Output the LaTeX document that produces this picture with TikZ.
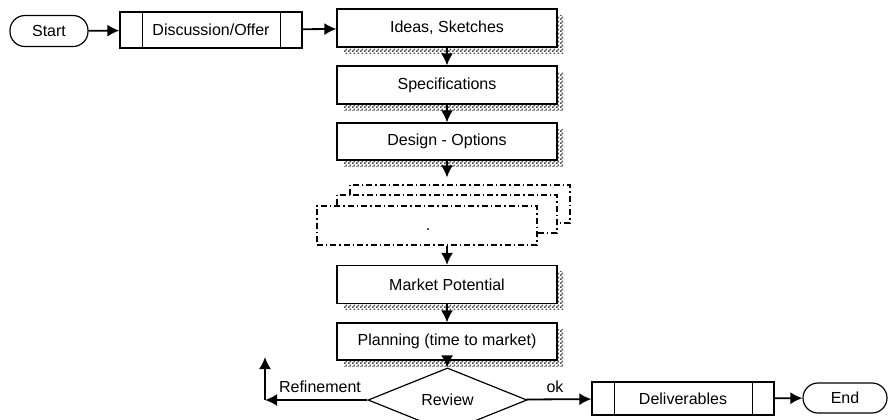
\documentclass[tikz,border=0pt]{standalone}
\usepackage{fontspec}
\setmainfont{Liberation Sans}
\usetikzlibrary{arrows.meta,shapes.geometric,shadows,patterns}

\pgfdeclarepatternformonly{checker}{\pgfpointorigin}{\pgfqpoint{2pt}{2pt}}{\pgfqpoint{2pt}{2pt}}{
  \pgfpathrectangle{\pgfpointorigin}{\pgfqpoint{1pt}{1pt}}
  \pgfpathrectangle{\pgfqpoint{1pt}{1pt}}{\pgfqpoint{1pt}{1pt}}
  \pgfusepath{fill}}

\tikzset{
  every node/.style={font=\fontsize{8}{10}\selectfont, inner sep=0pt},
  proc/.style={draw, line width=0.6pt, fill=white, minimum width=110pt, minimum height=19pt,
    general shadow={shadow xshift=3.5pt, shadow yshift=-3pt, pattern=checker, pattern color=black!70}},
  stackbox/.style={draw, line width=0.6pt, fill=white, minimum width=110pt, minimum height=19pt,
    dash pattern=on 3pt off 1.5pt on 0.7pt off 1.5pt},
  subproc/.style={draw, line width=0.6pt, fill=white, minimum width=91pt},
  term/.style={draw, line width=0.6pt, rounded corners=7.5pt},
  flow/.style={->, line width=0.9pt}
}

\begin{document}
\begin{tikzpicture}[x=0.5pt, y=-0.5pt, >={Latex[length=6pt,width=6pt]}]
\useasboundingbox (0,0) rectangle (893,419);

\node[term, minimum width=39pt, minimum height=15.5pt] (start) at (49,31) {Start};
\node[subproc, minimum height=18pt] (disc) at (211,30) {Discussion/Offer};
\node[proc] (ideas) at (447,28) {Ideas, Sketches};
\node[proc] (spec) at (447,85) {Specifications};
\node[proc, minimum height=18.5pt] (design) at (447,141.5) {Design - Options};

\node[stackbox] (back) at (460,204) {};
\node[stackbox] (mid) at (447,214) {};
\node[stackbox, minimum height=19.5pt] (front) at (427,225.5) {};
\node (dot) at (428,229.5) {.};

\node[proc] (market) at (447,284.5) {Market Potential};
\node[proc, minimum height=18.5pt] (plan) at (447,341.5) {Planning (time to market)};
\node[diamond, draw, line width=0.6pt, minimum width=79.5pt, minimum height=21pt] (review) at (447.5,400) {Review};
\node[subproc, minimum height=16.5pt] (deliv) at (683,398.5) {Deliverables};
\node[term, minimum width=42pt, minimum height=15pt] (end) at (845,398) {End};

\foreach \n in {disc,deliv}
{
  \draw[line width=0.6pt] ([xshift=11.5pt]\n.north west)--([xshift=11.5pt]\n.south west);
  \draw[line width=0.6pt] ([xshift=-11pt]\n.north east)--([xshift=-11pt]\n.south east);
}

\coordinate (refine) at (265,400);
\coordinate (refineup) at (265,357);

\draw[flow] (start)--(disc);
\draw[flow] (disc)--(ideas);
\draw[flow] (ideas)--(spec);
\draw[flow] (spec)--(design);
\draw[flow, shorten >=3.5pt] (design)--(design|-back.north);
\draw[flow] (market|-front.south)--(market);
\draw[flow] (market)--(plan);
\draw[flow] (plan)--(review);
\draw[flow] (review)--(refine);
\draw[flow] (refine)--(refineup);
\draw[flow] (review)--(deliv);
\draw[flow] (deliv)--(end);

\node (reflabel) at (320,387) {Refinement};
\node (oklabel) at (555,387) {ok};
\end{tikzpicture}
\end{document}
